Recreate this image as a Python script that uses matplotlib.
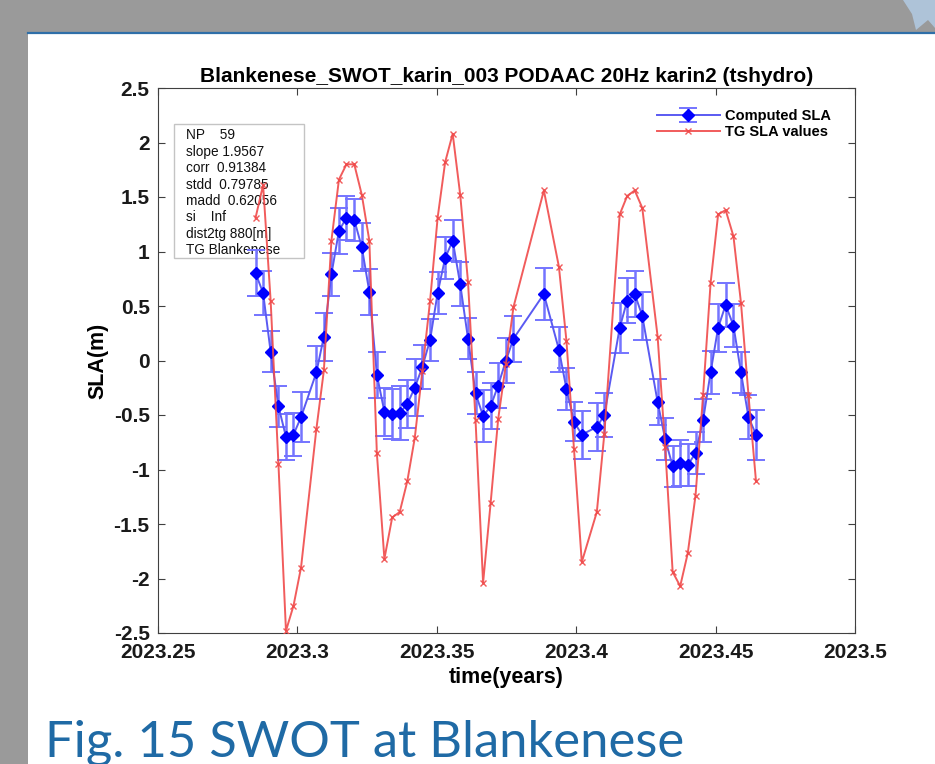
import matplotlib
matplotlib.use("Agg")
import matplotlib.pyplot as plt
from matplotlib.patches import Rectangle, Polygon
from matplotlib.lines import Line2D

plt.rcParams["font.family"] = ["Liberation Sans", "DejaVu Sans"]
plt.rcParams["axes.unicode_minus"] = False

# pass times (decimal years) shared by SWOT and tide gauge
t_years = [
    2023.2850, 2023.2877, 2023.2904, 2023.2932, 2023.2959, 2023.2986, 2023.3013,
    2023.3068, 2023.3095, 2023.3122, 2023.3149, 2023.3176, 2023.3204, 2023.3231,
    2023.3258, 2023.3285, 2023.3312, 2023.3340, 2023.3367, 2023.3394, 2023.3421,
    2023.3448, 2023.3476, 2023.3503, 2023.3530, 2023.3557, 2023.3584, 2023.3612,
    2023.3639, 2023.3666, 2023.3693, 2023.3720, 2023.3748, 2023.3775, 2023.3884,
    2023.3938, 2023.3965, 2023.3992, 2023.4020, 2023.4074, 2023.4101, 2023.4156,
    2023.4183, 2023.4210, 2023.4237, 2023.4292, 2023.4319, 2023.4346, 2023.4373,
    2023.4400, 2023.4428, 2023.4455, 2023.4482, 2023.4509, 2023.4536, 2023.4564,
    2023.4591, 2023.4618, 2023.4645,
]

sla_computed = [
    0.80, 0.62, 0.08, -0.42, -0.70, -0.68, -0.52, -0.11, 0.22, 0.79,
    1.19, 1.31, 1.29, 1.04, 0.63, -0.13, -0.47, -0.49, -0.48, -0.40,
    -0.25, -0.06, 0.19, 0.62, 0.94, 1.10, 0.70, 0.20, -0.30, -0.51,
    -0.42, -0.23, 0.00, 0.20, 0.61, 0.10, -0.26, -0.56, -0.68, -0.61,
    -0.50, 0.30, 0.55, 0.61, 0.41, -0.38, -0.72, -0.97, -0.94, -0.96,
    -0.85, -0.55, -0.11, 0.30, 0.51, 0.32, -0.11, -0.52, -0.68,
]

sla_err = [
    0.21, 0.20, 0.19, 0.19, 0.21, 0.20, 0.23, 0.24, 0.22, 0.20,
    0.21, 0.20, 0.19, 0.22, 0.21, 0.21, 0.22, 0.23, 0.25, 0.22,
    0.26, 0.20, 0.19, 0.19, 0.19, 0.19, 0.20, 0.19, 0.19, 0.24,
    0.21, 0.21, 0.21, 0.21, 0.24, 0.21, 0.19, 0.18, 0.22, 0.22,
    0.20, 0.23, 0.21, 0.21, 0.22, 0.21, 0.19, 0.19, 0.21, 0.19,
    0.19, 0.20, 0.20, 0.22, 0.20, 0.20, 0.19, 0.20, 0.23,
]

sla_tg = [
    1.31, 1.61, 0.55, -0.95, -2.48, -2.25, -1.90, -0.63, -0.09, 1.10,
    1.66, 1.80, 1.80, 1.52, 1.10, -0.85, -1.82, -1.44, -1.39, -1.11,
    -0.71, -0.10, 0.55, 1.31, 1.82, 2.08, 1.52, 0.72, -0.55, -2.04,
    -1.31, -0.54, -0.03, 0.49, 1.56, 0.86, 0.18, -0.81, -1.85, -1.39,
    -0.67, 1.34, 1.51, 1.56, 1.40, 0.22, -0.79, -1.94, -2.07, -1.77,
    -1.24, -0.32, 0.71, 1.34, 1.38, 1.14, 0.53, -0.32, -1.11,
]

stats_lines = [
    "NP    59",
    "slope 1.9567",
    "corr  0.91384",
    "stdd  0.79785",
    "madd  0.62056",
    "si    Inf",
    "dist2tg 880[m]",
    "TG Blankenese",
]

x_ticks = [2023.25, 2023.3, 2023.35, 2023.4, 2023.45, 2023.5]
y_ticks = [-2.5, -2, -1.5, -1, -0.5, 0, 0.5, 1, 1.5, 2, 2.5]

fig = plt.figure(figsize=(9.35, 7.64), dpi=100)
fig.patch.set_facecolor("white")

# slide frame: grey margins, blue rule, corner logo piece
fig.add_artist(Rectangle((0, 1 - 32 / 764), 1, 32 / 764, transform=fig.transFigure,
                         fc="#9a9a9a", ec="none", zorder=0))
fig.add_artist(Rectangle((0, 0), 28 / 935, 1, transform=fig.transFigure,
                         fc="#9a9a9a", ec="none", zorder=0))
fig.add_artist(Line2D([28 / 935, 1], [1 - 33 / 764, 1 - 33 / 764], transform=fig.transFigure,
                      color="#2f6fa8", lw=1.6, zorder=1))
fig.add_artist(Polygon([(903 / 935, 1), (1, 1), (1, 1 - 28 / 764), (928 / 935, 1 - 20 / 764),
                        (916 / 935, 1 - 30 / 764), (912 / 935, 1 - 14 / 764)],
                       closed=True, transform=fig.transFigure, fc="#aec3d8", ec="none", zorder=1))

ax = fig.add_axes([158 / 935, 1 - 633 / 764, 697 / 935, 545 / 764])

eb = ax.errorbar(t_years, sla_computed, yerr=sla_err, fmt="-D", color="#5a5af2", lw=1.4,
                 mfc="#0000ff", mec="#0000ff", ms=6.5, ecolor="#7474ff", elinewidth=1.8,
                 capsize=6.5, capthick=1.4, label="Computed SLA", zorder=3)
for cap in eb[1]:
    cap.set_color("#1c1cee")

tg_line, = ax.plot(t_years, sla_tg, "-x", color="#f04a4a", lw=1.4, ms=5, mew=1.0, alpha=0.9,
                   label="TG SLA values", zorder=4)

ax.set_xlim(2023.25, 2023.5)
ax.set_ylim(-2.5, 2.5)
ax.set_xticks(x_ticks)
ax.set_xticklabels(["%g" % v for v in x_ticks])
ax.set_yticks(y_ticks)
ax.set_yticklabels(["%g" % v for v in y_ticks])
ax.tick_params(direction="in", length=5, width=0.8, color="#404040", top=True, right=True,
               labelsize=15, labelcolor="#1a1a1a")
ax.tick_params(axis="y", pad=6)
ax.tick_params(axis="x", pad=7)
for lbl in ax.get_xticklabels() + ax.get_yticklabels():
    lbl.set_fontweight("bold")
for sp in ax.spines.values():
    sp.set_color("#404040")
    sp.set_linewidth(0.8)

ax.set_title("Blankenese_SWOT_karin_003 PODAAC 20Hz karin2 (tshydro)",
             fontsize=15, fontweight="bold", pad=4)
ax.set_xlabel("time(years)", fontsize=15.5, fontweight="bold", labelpad=4)
ax.set_ylabel("SLA(m)", fontsize=15.5, fontweight="bold", labelpad=4)

# statistics box sits beneath the data lines
ax.add_patch(Rectangle((0.023, 0.688), 0.1865, 0.246, transform=ax.transAxes,
                       fc="white", ec="#c4c4c4", lw=1.0, zorder=1))
ax.text(0.040, 0.926, "\n".join(stats_lines), transform=ax.transAxes, va="top", ha="left",
        fontsize=9.8, linespacing=1.22, color="#111111", zorder=2)

ax.legend(handles=[eb, tg_line], loc="upper left", bbox_to_anchor=(0.716, 0.961),
          frameon=False, prop={"weight": "bold", "size": 10.5}, handlelength=4.3,
          handletextpad=0.35, labelspacing=0.1, borderpad=0, borderaxespad=0)

fig.text(45 / 935, 1 - 757 / 764, "Fig. 15 SWOT at Blankenese", family=["Lato", "DejaVu Sans"],
         fontsize=36.5, color="#1f6aa5", va="baseline", ha="left")

fig.savefig("out.png", dpi=100)
plt.close(fig)
